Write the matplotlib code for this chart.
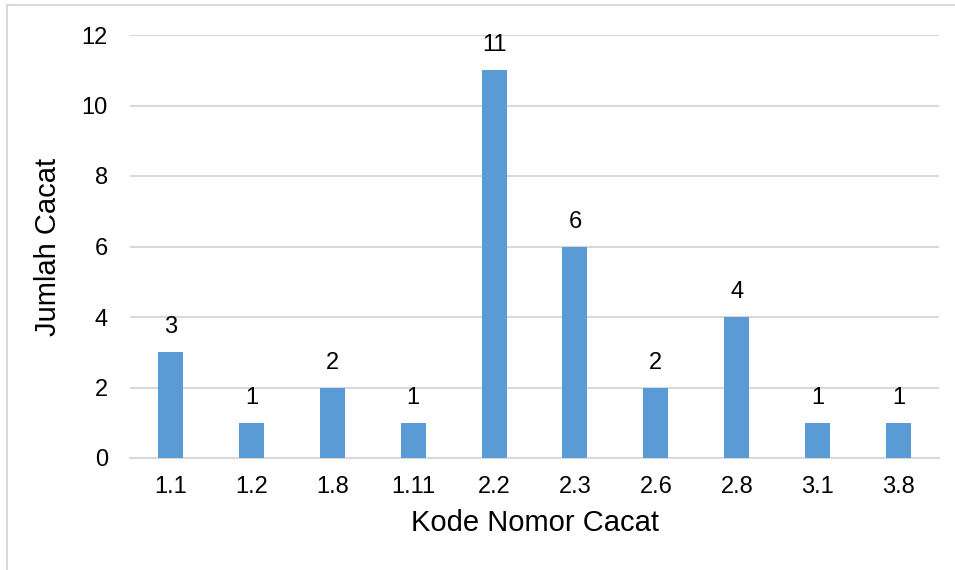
import matplotlib
matplotlib.use("Agg")
import matplotlib.pyplot as plt
from matplotlib.patches import Rectangle

categories = ["1.1", "1.2", "1.8", "1.11", "2.2", "2.3", "2.6", "2.8", "3.1", "3.8"]
counts = [3, 1, 2, 1, 11, 6, 2, 4, 1, 1]
y_ticks = [0, 2, 4, 6, 8, 10, 12]

plt.rcParams["font.family"] = ["Liberation Sans", "DejaVu Sans"]

W, H = 955, 570
fig = plt.figure(figsize=(W / 100, H / 100), dpi=100)
fig.patch.set_facecolor("white")

# outer chart frame
fig.patches.append(Rectangle((7 / W, -0.1), 2.0, 1.1 - 5 / H, transform=fig.transFigure,
                             fill=False, edgecolor="#D9D9D9", linewidth=1.5))

left, right, top, bottom = 130, 939, 35, 458
ax = fig.add_axes([left / W, 1 - bottom / H, (right - left) / W, (bottom - top) / H])

x = range(len(categories))
bars = ax.bar(x, counts, width=0.31, color="#5B9BD5", zorder=3)
for xi, v in zip(x, counts):
    ax.annotate(str(v), (xi, v), xytext=(0, 10), textcoords="offset points",
                ha="center", va="bottom", fontsize=17, color="black")

ax.set_xlim(-0.5, len(categories) - 0.5)
ax.set_ylim(0, 12)
ax.set_yticks(y_ticks)
ax.set_xticks(list(x))
ax.set_xticklabels(categories)
ax.grid(axis="y", color="#D9D9D9", linewidth=1.5, zorder=0)
ax.tick_params(axis="both", length=0, labelsize=17, colors="black")
ax.tick_params(axis="x", pad=13)
ax.tick_params(axis="y", pad=16)
for s in ["top", "right", "left"]:
    ax.spines[s].set_visible(False)
ax.spines["bottom"].set_color("#D9D9D9")
ax.spines["bottom"].set_linewidth(1.5)

ax.set_xlabel("Kode Nomor Cacat", fontsize=21, labelpad=8)
ax.set_ylabel("Jumlah Cacat", fontsize=21, labelpad=14)

fig.savefig("out.png", dpi=100)
